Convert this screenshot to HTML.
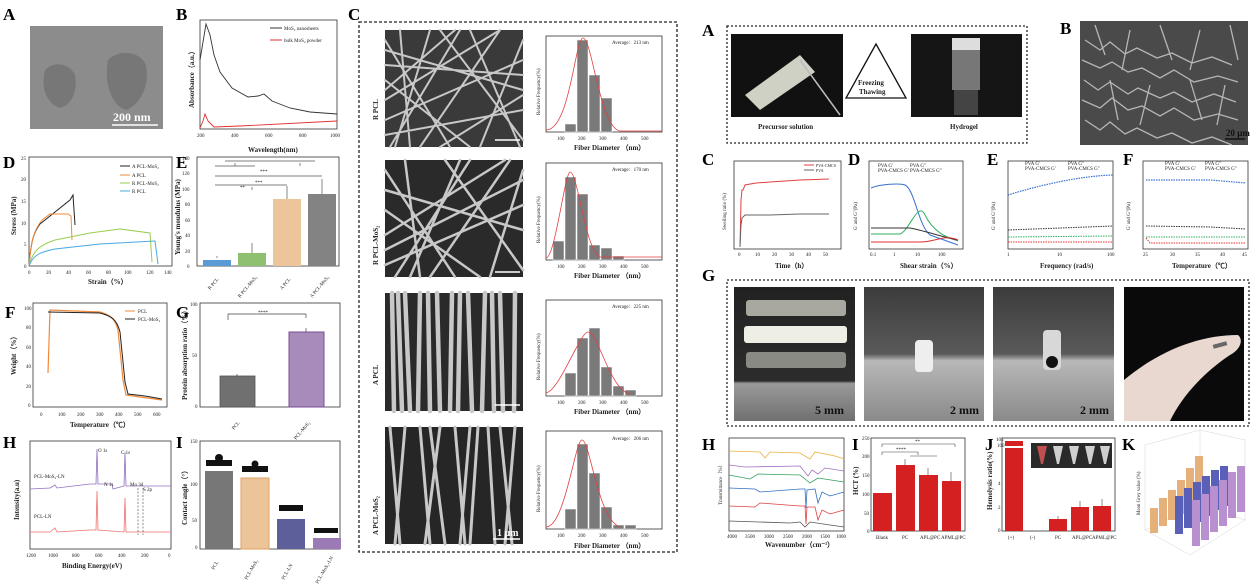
<!DOCTYPE html>
<html><head><meta charset="utf-8"><style>
html,body{margin:0;padding:0;background:#fff;width:1253px;height:584px;overflow:hidden}
svg{display:block}
text{font-family:"Liberation Serif",serif}
.L{font-size:17px;font-weight:bold}
.t{font-size:5px;fill:#222}
.a{font-size:7px;font-weight:bold;fill:#222}
.ax{fill:none;stroke:#333;stroke-width:0.8}
.f{stroke:#c8c8c8;stroke-linecap:round;fill:none}
</style></head><body>
<svg width="1253" height="584" viewBox="0 0 1253 584" xmlns="http://www.w3.org/2000/svg">
<rect width="1253" height="584" fill="#fff"/>
<!-- ================= LEFT FIGURE ================= -->
<text class="L" x="3" y="20">A</text>
<rect x="30" y="26" width="133" height="103" fill="#8c8c8c"/>
<path d="M45,70 C55,60 70,64 75,75 C78,90 72,105 60,108 C48,104 40,90 45,70Z" fill="#777"/>
<path d="M108,60 C120,48 142,52 146,66 C150,85 140,105 126,110 C110,105 104,80 108,60Z" fill="#777"/>
<line x1="112" y1="125" x2="158" y2="125" stroke="#fff" stroke-width="1.5"/>
<text x="113" y="121" fill="#fff" font-size="12" font-weight="bold">200 nm</text>

<text class="L" x="176" y="20">B</text>
<rect class="ax" x="200" y="20" width="137" height="109"/>
<path d="M200,60 L203,42 206,24 210,35 214,55 220,72 232,88 248,97 258,96 264,94 272,101 290,108 310,112 337,114" fill="none" stroke="#333" stroke-width="0.9"/>
<path d="M200,128 L203,121 205,114 208,121 214,127 240,126 337,121" fill="none" stroke="#e03030" stroke-width="0.9"/>
<line x1="270" y1="28" x2="282" y2="28" stroke="#333"/><text class="t" x="284" y="30">MoS₂ nanosheets</text>
<line x1="270" y1="40" x2="282" y2="40" stroke="#e03030"/><text class="t" x="284" y="42">bulk MoS₂ powder</text>
<text class="t" x="197" y="137">200</text><text class="t" x="231" y="137">400</text><text class="t" x="265" y="137">600</text><text class="t" x="299" y="137">800</text><text class="t" x="330" y="137">1000</text>
<text class="a" x="248" y="152">Wavelength(nm)</text>
<text class="a" transform="translate(194,108) rotate(-90)">Absorbance（a.u.）</text>

<text class="L" x="348" y="20">C</text>
<rect x="359" y="22" width="318" height="530" fill="none" stroke="#222" stroke-width="1.3" stroke-dasharray="3,2"/>
<!-- SEM images -->
<g>
<rect x="385" y="30" width="138" height="117" fill="#3a3a3a"/>
<path class="f" stroke-width="2" stroke="#b0b0b0" d="M385,50 L523,90 M390,147 L460,30 M420,147 L500,30 M385,120 L523,60 M440,30 L523,140 M385,80 L470,147 M480,147 L523,40 M385,40 L450,147 M400,30 L410,147 M500,30 L385,100 M385,65 L523,75 M430,30 L395,147 M385,135 L523,110 M470,30 L520,147 M455,30 L385,90 M523,95 L440,147"/>
<rect x="385" y="160" width="138" height="117" fill="#2a2a2a"/>
<path class="f" stroke-width="2.5" d="M385,190 L523,230 M395,277 L470,160 M430,277 L510,160 M385,250 L523,180 M445,160 L523,270 M385,210 L480,277 M490,277 L523,170 M385,170 L455,277 M405,160 L420,277 M505,160 L385,235 M385,265 L523,205 M460,160 L410,277"/>
<rect x="385" y="293" width="138" height="118" fill="#2a2a2a"/>
<path class="f" stroke-width="4.5" stroke="#b5b5b5" d="M392,293 L394,411 M405,293 L410,411 M420,293 L418,411 M437,293 L440,411 M452,293 L450,411 M468,293 L472,411 M485,293 L482,411 M500,293 L503,411 M515,293 L514,411 M398,293 L402,411 M428,293 L430,411 M460,293 L458,411 M492,293 L494,411"/>
<rect x="385" y="427" width="138" height="117" fill="#262626"/>
<path class="f" stroke-width="3" stroke="#aaa" d="M390,427 L400,544 M405,427 L395,544 M420,427 L430,544 M440,427 L425,544 M455,427 L465,544 M470,427 L460,544 M488,427 L495,544 M500,427 L512,544 M515,427 L505,544 M430,427 L445,544 M478,427 L470,544"/>
<line x1="495" y1="140" x2="520" y2="140" stroke="#fff" stroke-width="1.5"/>
<line x1="495" y1="272" x2="520" y2="272" stroke="#fff" stroke-width="1.5"/>
<line x1="495" y1="405" x2="520" y2="405" stroke="#fff" stroke-width="1.5"/>
<line x1="493" y1="539" x2="520" y2="539" stroke="#fff" stroke-width="1.5"/>
<text x="497" y="536" fill="#fff" font-size="10" font-weight="bold">1 μm</text>
</g>
<text class="a" font-size="12" transform="translate(378,120) rotate(-90)">R PCL</text>
<text class="a" font-size="12" transform="translate(378,265) rotate(-90)">R PCL-MoS₂</text>
<text class="a" font-size="12" transform="translate(378,385) rotate(-90)">A PCL</text>
<text class="a" font-size="12" transform="translate(378,535) rotate(-90)">A PCL-MoS₂</text>
<!-- histograms -->
<g fill="#7a7a7a" stroke="#fff" stroke-width="0.5">
<rect class="ax" x="546" y="36" width="116" height="96" fill="none"/>
<rect x="565" y="124" width="11" height="8"/><rect x="577" y="40" width="11" height="92"/><rect x="589" y="75" width="11" height="57"/><rect x="601" y="98" width="11" height="34"/>
<rect class="ax" x="546" y="163" width="116" height="97" fill="none"/>
<rect x="553" y="241" width="11" height="19"/><rect x="565" y="177" width="11" height="83"/><rect x="577" y="194" width="11" height="66"/><rect x="589" y="245" width="11" height="15"/><rect x="601" y="248" width="11" height="12"/><rect x="613" y="256" width="11" height="4"/>
<rect class="ax" x="546" y="300" width="116" height="96" fill="none"/>
<rect x="565" y="373" width="11" height="23"/><rect x="577" y="338" width="11" height="58"/><rect x="589" y="328" width="11" height="68"/><rect x="601" y="367" width="11" height="29"/><rect x="613" y="386" width="11" height="10"/><rect x="625" y="390" width="11" height="6"/>
<rect class="ax" x="546" y="431" width="116" height="98" fill="none"/>
<rect x="565" y="509" width="11" height="20"/><rect x="577" y="444" width="11" height="85"/><rect x="589" y="473" width="11" height="56"/><rect x="601" y="507" width="11" height="22"/><rect x="613" y="525" width="11" height="4"/><rect x="625" y="525" width="11" height="4"/>
</g>
<g fill="none" stroke="#e04040" stroke-width="0.8">
<path d="M546,130 C570,130 575,38 583,38 C592,38 600,128 620,131 L662,131"/>
<path d="M546,258 C555,258 565,172 570,172 C578,172 585,250 600,257 L662,257"/>
<path d="M546,393 C560,390 580,332 588,332 C598,332 610,390 630,394"/>
<path d="M546,527 C565,527 575,440 582,440 C590,440 598,520 620,527"/>
</g>
<g class="t">
<text x="612" y="44">Average：213 nm</text><text x="612" y="171">Average：170 nm</text><text x="612" y="308">Average：225 nm</text><text x="612" y="440">Average：206 nm</text>
<text x="557" y="140">100</text><text x="578" y="140">200</text><text x="599" y="140">300</text><text x="620" y="140">400</text><text x="641" y="140">500</text>
<text x="557" y="268">100</text><text x="578" y="268">200</text><text x="599" y="268">300</text><text x="620" y="268">400</text><text x="641" y="268">500</text>
<text x="557" y="404">100</text><text x="578" y="404">200</text><text x="599" y="404">300</text><text x="620" y="404">400</text><text x="641" y="404">500</text>
<text x="557" y="537">100</text><text x="578" y="537">200</text><text x="599" y="537">300</text><text x="620" y="537">400</text><text x="641" y="537">500</text>
</g>
<g class="a" font-size="6"><text x="574" y="150">Fiber Diameter （nm）</text><text x="574" y="278">Fiber Diameter （nm）</text><text x="574" y="414">Fiber Diameter （nm）</text><text x="574" y="548">Fiber Diameter （nm）</text></g>
<g class="t"><text transform="translate(540,115) rotate(-90)">Relative Frequency(%)</text><text transform="translate(540,243) rotate(-90)">Relative Frequency(%)</text><text transform="translate(540,380) rotate(-90)">Relative Frequency(%)</text><text transform="translate(540,512) rotate(-90)">Relative Frequency(%)</text></g>

<!-- D -->
<text class="L" x="3" y="168">D</text>
<rect class="ax" x="29" y="157" width="143" height="109"/>
<path d="M29,266 C31,240 34,232 40,224 L55,212 L70,200 L73,195 L75,225" fill="none" stroke="#222" stroke-width="1"/>
<path d="M29,266 C31,240 34,230 42,220 L50,214 L68,214 L71,216 L72,240" fill="none" stroke="#f08a3a" stroke-width="1"/>
<path d="M29,266 C33,250 40,245 55,240 L90,233 L120,229 L150,233 L152,262" fill="none" stroke="#9acd50" stroke-width="1"/>
<path d="M29,266 C33,255 40,252 55,249 L100,244 L155,241 L158,264" fill="none" stroke="#4aa8e0" stroke-width="1"/>
<g class="t"><line x1="120" y1="166" x2="130" y2="166" stroke="#222"/><text x="132" y="168">A PCL-MoS₂</text>
<line x1="120" y1="175" x2="130" y2="175" stroke="#f08a3a"/><text x="132" y="177">A PCL</text>
<line x1="120" y1="183" x2="130" y2="183" stroke="#9acd50"/><text x="132" y="185">R PCL-MoS₂</text>
<line x1="120" y1="191" x2="130" y2="191" stroke="#4aa8e0"/><text x="132" y="193">R PCL</text>
<text x="24" y="268">0</text><text x="24" y="246">5</text><text x="21" y="225">10</text><text x="21" y="203">15</text><text x="21" y="181">20</text><text x="21" y="160">25</text>
<text x="28" y="274">0</text><text x="46" y="274">20</text><text x="66" y="274">40</text><text x="86" y="274">60</text><text x="106" y="274">80</text><text x="124" y="274">100</text><text x="146" y="274">120</text><text x="164" y="274">140</text></g>
<text class="a" x="88" y="284">Strain（%）</text>
<text class="a" transform="translate(16,235) rotate(-90)">Stress (MPa)</text>

<!-- E -->
<text class="L" x="176" y="168">E</text>
<rect class="ax" x="197" y="157" width="142" height="109"/>
<rect x="203" y="260" width="28" height="6" fill="#5b9bd5"/><rect x="238" y="253" width="28" height="13" fill="#8fc070"/><rect x="273" y="199" width="28" height="67" fill="#ecc59b"/><rect x="308" y="194" width="28" height="72" fill="#838383"/>
<g stroke="#555" stroke-width="0.7" fill="none"><path d="M217,258 v-2 M252,253 v-10 M287,199 v-13 M322,194 v-15 M215,185 H287 M252,190 V187 M215,176 H322 M215,166 H255 M235,166 V163 M300,166 V163 M225,161 H315"/></g>
<text class="t" x="260" y="173">***</text><text class="t" x="255" y="184">***</text><text class="t" x="240" y="189">**</text>
<g class="t"><text x="187" y="268">0</text><text x="185" y="253">20</text><text x="185" y="237">40</text><text x="185" y="222">60</text><text x="185" y="206">80</text><text x="182" y="191">100</text><text x="182" y="175">120</text><text x="182" y="160">140</text>
<text transform="translate(210,290) rotate(-50)">R PCL</text><text transform="translate(240,298) rotate(-50)">R PCL-MoS₂</text><text transform="translate(282,290) rotate(-50)">A PCL</text><text transform="translate(312,298) rotate(-50)">A PCL-MoS₂</text></g>
<text class="a" transform="translate(180,255) rotate(-90)">Young's moudulus (MPa)</text>

<!-- F -->
<text class="L" x="5" y="318">F</text>
<rect class="ax" x="33" y="303" width="134" height="104"/>
<path d="M48,373 L50,310 L100,312 C110,315 115,318 118,330 L123,380 L126,395 L140,397 L162,400" fill="none" stroke="#f08a3a" stroke-width="1.2"/>
<path d="M48,312 L100,313 C112,316 117,320 120,332 L125,382 L128,394 L145,396 L162,399" fill="none" stroke="#222" stroke-width="1"/>
<g class="t"><line x1="125" y1="311" x2="135" y2="311" stroke="#f08a3a"/><text x="138" y="313">PCL</text><line x1="125" y1="319" x2="135" y2="319" stroke="#222"/><text x="138" y="321">PCL-MoS₂</text>
<text x="24" y="310">100</text><text x="26" y="329">80</text><text x="26" y="349">60</text><text x="26" y="368">40</text><text x="26" y="388">20</text><text x="28" y="407">0</text>
<text x="40" y="416">0</text><text x="58" y="416">100</text><text x="77" y="416">200</text><text x="96" y="416">300</text><text x="115" y="416">400</text><text x="134" y="416">500</text><text x="153" y="416">600</text></g>
<text class="a" x="70" y="427">Temperature（℃）</text>
<text class="a" transform="translate(16,375) rotate(-90)">Weight（%）</text>

<!-- G -->
<text class="L" x="176" y="318">G</text>
<rect class="ax" x="200" y="303" width="140" height="104"/>
<rect x="220" y="376" width="35" height="31" fill="#707070" stroke="#555" stroke-width="0.8"/>
<rect x="289" y="332" width="35" height="75" fill="#a88bbb" stroke="#7a4f95" stroke-width="1"/>
<path d="M237,376 v-2 M306,332 v-4 M228,314 V320 M306,314 V318 M228,314 H306" stroke="#444" stroke-width="0.7" fill="none"/>
<text class="t" x="258" y="314">****</text>
<g class="t"><text x="190" y="306">100</text><text x="192" y="357">50</text><text x="195" y="408">0</text>
<text transform="translate(234,430) rotate(-50)">PCL</text><text transform="translate(296,440) rotate(-50)">PCL-MoS₂</text></g>
<text class="a" transform="translate(187,400) rotate(-90)">Protein absorption ratio（%）</text>

<!-- H -->
<text class="L" x="3" y="448">H</text>
<rect class="ax" x="30" y="441" width="141" height="108"/>
<path d="M30,489 L50,488 55,485 57,488 90,484 L96,484 97,449 98,484 L112,484 113,489 L124,486 125,452 126,486 L171,486" fill="none" stroke="#9070c0" stroke-width="0.8"/>
<path d="M30,532 L50,532 55,528 57,532 90,530 L96,530 97,491 98,530 L124,532 125,498 126,532 L171,532" fill="none" stroke="#f07070" stroke-width="0.8"/>
<path d="M138,488 V535 M143,488 V535" stroke="#444" stroke-width="0.6" stroke-dasharray="2,1.5"/>
<g class="t"><text x="34" y="478">PCL-MoS₂-LN</text><text x="34" y="518">PCL-LN</text><text x="98" y="452">O 1s</text><text x="121" y="454">C 1s</text><text x="104" y="486">N 1s</text><text x="130" y="486">Mo 3d</text><text x="143" y="491">S 2p</text>
<text x="26" y="557">1200</text><text x="48" y="557">1000</text><text x="72" y="557">800</text><text x="95" y="557">600</text><text x="118" y="557">400</text><text x="141" y="557">200</text><text x="168" y="557">0</text></g>
<text class="a" x="62" y="568">Binding  Energy(eV)</text>
<text class="a" transform="translate(19,520) rotate(-90)">Intensity(a.u)</text>

<!-- I -->
<text class="L" x="176" y="448">I</text>
<rect class="ax" x="200" y="441" width="140" height="108"/>
<rect x="205" y="471" width="28" height="78" fill="#777"/><rect x="241" y="478" width="28" height="71" fill="#ebc49a" stroke="#e0a060"/><rect x="277" y="519" width="28" height="30" fill="#5c5f9a"/><rect x="313" y="538" width="28" height="11" fill="#9b7ab5"/>
<g fill="#111"><rect x="206" y="460" width="26" height="6"/><circle cx="219" cy="458" r="4"/><rect x="242" y="466" width="26" height="6"/><circle cx="255" cy="464" r="3.5"/><rect x="279" y="505" width="24" height="6"/><rect x="314" y="528" width="24" height="5"/></g>
<g class="t"><text x="190" y="443">150</text><text x="190" y="486">100</text><text x="192" y="522">50</text><text x="195" y="549">0</text>
<text transform="translate(214,570) rotate(-60)">PCL</text><text transform="translate(247,580) rotate(-60)">PCL-MoS₂</text><text transform="translate(284,580) rotate(-60)">PCL-LN</text><text transform="translate(318,584) rotate(-60)">PCL-MoS₂-LN</text></g>
<text class="a" transform="translate(187,525) rotate(-90)">Contact angle（°）</text>

<!-- ================= RIGHT FIGURE ================= -->
<text class="L" x="702" y="36">A</text>
<rect x="727" y="26" width="300" height="117" fill="none" stroke="#222" stroke-width="1.3" stroke-dasharray="2,2"/>
<rect x="731" y="34" width="112" height="83" fill="#111"/>
<path d="M745,95 L800,55 L815,72 L760,110 Z" fill="#cfd1c4"/>
<line x1="800" y1="60" x2="840" y2="115" stroke="#bbb" stroke-width="1.5"/>
<rect x="911" y="34" width="111" height="83" fill="#151515"/>
<rect x="952" y="38" width="28" height="12" fill="#ddd"/><rect x="952" y="50" width="28" height="40" fill="#777"/><rect x="954" y="90" width="24" height="25" fill="#444"/>
<path d="M876,44 L846,98 L906,98 Z" fill="none" stroke="#111" stroke-width="1.3"/>
<text class="a" font-size="8" x="858" y="85">Freezing</text><text class="a" font-size="8" x="859" y="94">Thawing</text>
<text class="a" x="758" y="129">Precursor solution</text><text class="a" x="950" y="129">Hydrogel</text>

<text class="L" x="1060" y="34">B</text>
<rect x="1080" y="21" width="168" height="124" fill="#4a4a4a"/>
<g stroke="#d0d0d0" stroke-width="1.3" fill="none" opacity="0.8">
<path d="M1085,40 l15,10 l10,-8 l15,12 l12,-6 l20,10 l15,-5 l20,10 l20,-6 l20,8"/>
<path d="M1082,60 l18,8 l12,-6 l16,10 l14,-4 l18,10 l14,-8 l20,12 l24,-6 l20,6"/>
<path d="M1084,80 l14,10 l12,-8 l18,12 l10,-6 l22,10 l14,-6 l18,10 l22,-8 l22,8"/>
<path d="M1082,100 l18,8 l12,-10 l16,12 l14,-4 l18,10 l14,-8 l20,12 l24,-6 l20,6"/>
<path d="M1085,120 l15,10 l10,-8 l15,12 l12,-6 l20,10 l15,-5 l20,10 l20,-6 l20,8"/>
<path d="M1095,25 l10,30 M1130,30 l-8,40 M1160,25 l12,35 M1200,30 l-10,40 M1230,25 l8,35 M1110,80 l8,40 M1150,85 l-10,40 M1190,80 l12,40 M1225,85 l-8,40"/>
</g>
<line x1="1225" y1="139" x2="1245" y2="139" stroke="#111" stroke-width="1.5"/>
<text x="1226" y="136" font-size="9" font-weight="bold" fill="#111">20 μm</text>

<!-- C swelling -->
<text class="L" x="702" y="165">C</text>
<rect class="ax" x="734" y="161" width="107" height="88"/>
<path d="M740,247 L741,200 742,190 743,190 745,185 756,183 770,182 800,180 829,179" fill="none" stroke="#e04040" stroke-width="1"/>
<path d="M740,247 L741,225 742,218 745,215 770,215 800,214 829,214" fill="none" stroke="#666" stroke-width="1"/>
<g class="t"><line x1="804" y1="165" x2="814" y2="165" stroke="#e04040"/><text x="816" y="167" font-size="4">PVA-CMCS</text><line x1="804" y1="170" x2="814" y2="170" stroke="#666"/><text x="816" y="172" font-size="4">PVA</text>
<text x="738" y="256">0</text><text x="755" y="256">10</text><text x="772" y="256">20</text><text x="789" y="256">30</text><text x="806" y="256">40</text><text x="823" y="256">50</text></g>
<text class="a" font-size="5" x="775" y="268">Time（h）</text>
<text class="t" transform="translate(726,230) rotate(-90)">Swelling ratio (%)</text>

<!-- D rheology -->
<text class="L" x="848" y="165">D</text>
<rect class="ax" x="869" y="161" width="94" height="88"/>
<path d="M871,188 C880,184 900,183 905,185 C915,190 918,225 930,235 L958,245" fill="none" stroke="#3a70d0" stroke-width="1"/>
<path d="M871,234 L900,234 C910,230 918,200 925,215 C935,235 950,238 958,241" fill="none" stroke="#30b060" stroke-width="1"/>
<path d="M871,228 L910,228 C930,232 945,238 958,240" fill="none" stroke="#333" stroke-width="1"/>
<path d="M871,242 L920,242 C935,242 945,234 958,240" fill="none" stroke="#e03030" stroke-width="1"/>
<g class="t" font-size="3.5"><text x="878" y="167">PVA G'</text><text x="910" y="167">PVA G''</text><text x="878" y="172">PVA-CMCS G'</text><text x="910" y="172">PVA-CMCS G''</text></g>
<g class="t" font-size="4"><text x="870" y="256">0.1</text><text x="893" y="256">1</text><text x="915" y="256">10</text><text x="938" y="256">100</text></g>
<text class="a" font-size="5" x="900" y="268">Shear strain（%）</text>
<text class="t" transform="translate(857,230) rotate(-90)">G' and G''(Pa)</text>

<!-- E -->
<text class="L" x="987" y="165">E</text>
<rect class="ax" x="1008" y="161" width="105" height="88"/>
<path d="M1008,195 C1040,185 1080,176 1113,175" fill="none" stroke="#3a70d0" stroke-width="1.2" stroke-dasharray="1.5,1"/>
<path d="M1008,230 L1113,226" fill="none" stroke="#333" stroke-width="1" stroke-dasharray="1.5,1"/>
<path d="M1008,237 L1113,236" fill="none" stroke="#30b060" stroke-width="1" stroke-dasharray="1.5,1"/>
<path d="M1008,242 L1113,242" fill="none" stroke="#e03030" stroke-width="1" stroke-dasharray="1.5,1"/>
<g class="t" font-size="3.5"><text x="1025" y="165">PVA G'</text><text x="1068" y="165">PVA G''</text><text x="1025" y="170">PVA-CMCS G'</text><text x="1068" y="170">PVA-CMCS G''</text></g>
<g class="t" font-size="4"><text x="1007" y="256">1</text><text x="1057" y="256">10</text><text x="1107" y="256">100</text></g>
<text class="a" font-size="5" x="1040" y="268">Frequency (rad/s)</text>
<text class="t" transform="translate(995,230) rotate(-90)">G' and G''(Pa)</text>

<!-- F -->
<text class="L" x="1123" y="165">F</text>
<rect class="ax" x="1143" y="161" width="105" height="88"/>
<path d="M1146,180 L1210,180 1246,183" fill="none" stroke="#3a70d0" stroke-width="1.2" stroke-dasharray="1.5,1"/>
<path d="M1146,226 L1210,227 1246,229" fill="none" stroke="#333" stroke-width="1" stroke-dasharray="1.5,1"/>
<path d="M1146,237 L1246,237" fill="none" stroke="#30b060" stroke-width="1" stroke-dasharray="1.5,1"/>
<path d="M1146,238 L1150,243 1246,243" fill="none" stroke="#e03030" stroke-width="1" stroke-dasharray="1.5,1"/>
<g class="t" font-size="3.5"><text x="1165" y="165">PVA G'</text><text x="1205" y="165">PVA G''</text><text x="1165" y="170">PVA-CMCS G'</text><text x="1205" y="170">PVA-CMCS G''</text></g>
<g class="t" font-size="4"><text x="1143" y="256">25</text><text x="1170" y="256">30</text><text x="1195" y="256">35</text><text x="1220" y="256">40</text><text x="1242" y="256">45</text></g>
<text class="a" font-size="5" x="1172" y="268">Temperature（℃）</text>
<text class="t" transform="translate(1130,230) rotate(-90)">G' and G''(Pa)</text>

<!-- G photos -->
<text class="L" x="702" y="281">G</text>
<rect x="727" y="280" width="522" height="146" fill="none" stroke="#222" stroke-width="1.3" stroke-dasharray="2,2"/>
<defs>
<linearGradient id="gg" x1="0" y1="0" x2="0" y2="1"><stop offset="0" stop-color="#3c3c3c"/><stop offset="0.5" stop-color="#5a5a5a"/><stop offset="0.55" stop-color="#b8b8b8"/><stop offset="1" stop-color="#8a8a8a"/></linearGradient>
<linearGradient id="g1" x1="0" y1="0" x2="0" y2="1"><stop offset="0" stop-color="#222"/><stop offset="0.7" stop-color="#2c2c2c"/><stop offset="0.72" stop-color="#9a9a9a"/><stop offset="1" stop-color="#707070"/></linearGradient>
</defs>
<rect x="734" y="287" width="121" height="134" fill="url(#g1)"/>
<rect x="746" y="300" width="100" height="16" rx="3" fill="#a8a8a0"/>
<rect x="744" y="326" width="103" height="17" rx="3" fill="#eeeee4"/>
<rect x="746" y="352" width="100" height="16" rx="3" fill="#8a8a84"/>
<text x="815" y="414" font-size="12" font-weight="bold" fill="#111">5 mm</text>
<rect x="864" y="287" width="120" height="134" fill="url(#gg)"/>
<rect x="915" y="340" width="18" height="32" rx="4" fill="#eee"/>
<text x="950" y="414" font-size="12" font-weight="bold" fill="#111">2 mm</text>
<rect x="993" y="287" width="121" height="134" fill="url(#gg)"/>
<rect x="1043" y="330" width="18" height="40" rx="4" fill="#d8d8d8"/><circle cx="1052" cy="362" r="6" fill="#111"/>
<text x="1080" y="414" font-size="12" font-weight="bold" fill="#111">2 mm</text>
<rect x="1124" y="287" width="120" height="134" fill="#0a0a0a"/>
<path d="M1124,421 L1124,380 C1160,350 1200,335 1238,335 C1244,340 1240,350 1230,355 C1200,375 1180,400 1170,421 Z" fill="#e8d8cf"/>
<rect x="1213" y="343" width="14" height="4" fill="#666" transform="rotate(-15 1220 345)"/>

<!-- H FTIR -->
<text class="L" x="702" y="450">H</text>
<rect class="ax" x="729" y="438" width="115" height="93"/>
<g fill="none" stroke-width="0.8">
<path d="M729,451 L760,452 765,458 770,452 800,453 810,459 815,452 835,456 844,459" stroke="#e8b040"/>
<path d="M729,465 L745,467 L800,466 L808,476 812,470 818,474 825,468 844,471" stroke="#a070c0"/>
<path d="M729,475 L750,479 758,474 800,475 810,483 818,478 844,482" stroke="#30a060"/>
<path d="M729,488 L755,489 760,492 800,489 L805,489 806,508 807,490 L815,489 818,503 822,492 830,496 844,492" stroke="#3070c0"/>
<path d="M729,506 L755,507 760,503 800,506 L805,506 806,524 807,507 L815,507 818,520 822,510 830,514 844,510" stroke="#e04040"/>
<path d="M729,521 L790,523 800,522 805,527 810,522 830,525 844,527" stroke="#555"/>
</g>
<g class="t" font-size="4"><text x="727" y="538">4000</text><text x="745" y="538">3500</text><text x="764" y="538">3000</text><text x="783" y="538">2500</text><text x="802" y="538">2000</text><text x="820" y="538">1500</text><text x="836" y="538">1000</text></g>
<text class="a" font-size="5" x="765" y="547">Wavenumber（cm⁻¹）</text>
<text class="t" transform="translate(722,505) rotate(-90)">Transmittance（%）</text>

<!-- I HCT -->
<text class="L" x="852" y="450">I</text>
<rect class="ax" x="871" y="438" width="94" height="93"/>
<g fill="#d42020"><rect x="873" y="493" width="19" height="38"/><rect x="896" y="465" width="19" height="66"/><rect x="919" y="475" width="19" height="56"/><rect x="942" y="481" width="19" height="50"/></g>
<path d="M905,465 v-6 M928,475 v-7 M951,481 v-9 M882,444 V447 M955,444 V447 M882,444 H955 M882,455 V452 M918,452 V455 M882,452 H918 M910,456 H937" stroke="#444" stroke-width="0.6" fill="none"/>
<text class="t" x="915" y="443">**</text><text class="t" x="896" y="451">****</text>
<g class="t" font-size="4"><text x="862" y="440">250</text><text x="862" y="458">200</text><text x="862" y="477">150</text><text x="862" y="496">100</text><text x="864" y="515">50</text><text x="867" y="533">0</text>
<text x="876" y="539">Blank</text><text x="902" y="539">PC</text><text x="920" y="539">APL@PC</text><text x="941" y="539">APML@PC</text></g>
<text class="a" font-size="5" transform="translate(858,495) rotate(-90)">HCT (%)</text>

<!-- J -->
<text class="L" x="985" y="450">J</text>
<rect class="ax" x="1002" y="438" width="113" height="93"/>
<g fill="#d42020"><rect x="1005" y="441" width="18" height="5"/><rect x="1005" y="448" width="18" height="83"/><rect x="1049" y="519" width="18" height="12"/><rect x="1071" y="507" width="18" height="24"/><rect x="1093" y="506" width="18" height="25"/></g>
<path d="M1058,519 v-3 M1080,507 v-6 M1102,506 v-7" stroke="#444" stroke-width="0.6"/>
<rect x="1031" y="443" width="81" height="25" fill="#2a2a2a"/>
<g fill="#cfcfcf"><path d="M1037,446 h10 l-4,18 h-2 z" fill="#c05050"/><path d="M1053,446 h10 l-4,18 h-2 z"/><path d="M1069,446 h10 l-4,18 h-2 z"/><path d="M1085,446 h10 l-4,18 h-2 z"/><path d="M1100,446 h10 l-4,18 h-2 z"/></g>
<g class="t" font-size="4"><text x="996" y="441">105</text><text x="997" y="447">100</text><text x="998" y="485">4</text><text x="998" y="509">2</text><text x="998" y="532">0</text>
<text x="1008" y="539">(+)</text><text x="1030" y="539">(-)</text><text x="1055" y="539">PC</text><text x="1072" y="539">APL@PC</text><text x="1092" y="539">APML@PC</text></g>
<text class="a" font-size="5" transform="translate(992,510) rotate(-90)">Hemolysis ratio(%)</text>

<!-- K 3D -->
<text class="L" x="1122" y="450">K</text>
<g stroke="#ccc" stroke-width="0.4" fill="none">
<path d="M1145,445 L1145,530 L1190,555 L1245,520 L1245,440 M1145,530 L1200,505 L1245,520 M1200,505 L1200,430 L1145,445 M1200,430 L1245,440"/>
</g>
<g>
<rect x="1150" y="508" width="8" height="25" fill="#e6b07a"/><rect x="1159" y="498" width="8" height="28" fill="#e6b07a"/><rect x="1168" y="490" width="8" height="30" fill="#e6b07a"/><rect x="1177" y="480" width="8" height="34" fill="#e6b07a"/><rect x="1186" y="468" width="8" height="40" fill="#e6b07a"/><rect x="1195" y="456" width="8" height="46" fill="#e6b07a"/>
<rect x="1175" y="496" width="8" height="38" fill="#5a5fb8"/><rect x="1184" y="488" width="8" height="40" fill="#5a5fb8"/><rect x="1193" y="482" width="8" height="40" fill="#5a5fb8"/><rect x="1202" y="476" width="8" height="40" fill="#5a5fb8"/><rect x="1211" y="470" width="8" height="40" fill="#5a5fb8"/><rect x="1220" y="466" width="8" height="40" fill="#5a5fb8"/>
<rect x="1192" y="500" width="8" height="46" fill="#b890d0"/><rect x="1201" y="494" width="8" height="46" fill="#b890d0"/><rect x="1210" y="486" width="8" height="46" fill="#b890d0"/><rect x="1219" y="480" width="8" height="46" fill="#b890d0"/><rect x="1228" y="472" width="8" height="46" fill="#b890d0"/><rect x="1237" y="466" width="8" height="46" fill="#b890d0"/>
</g>
<text class="t" font-size="3.5" transform="translate(1140,515) rotate(-90)">Mean Grey value (%)</text>
</svg>
</body></html>
